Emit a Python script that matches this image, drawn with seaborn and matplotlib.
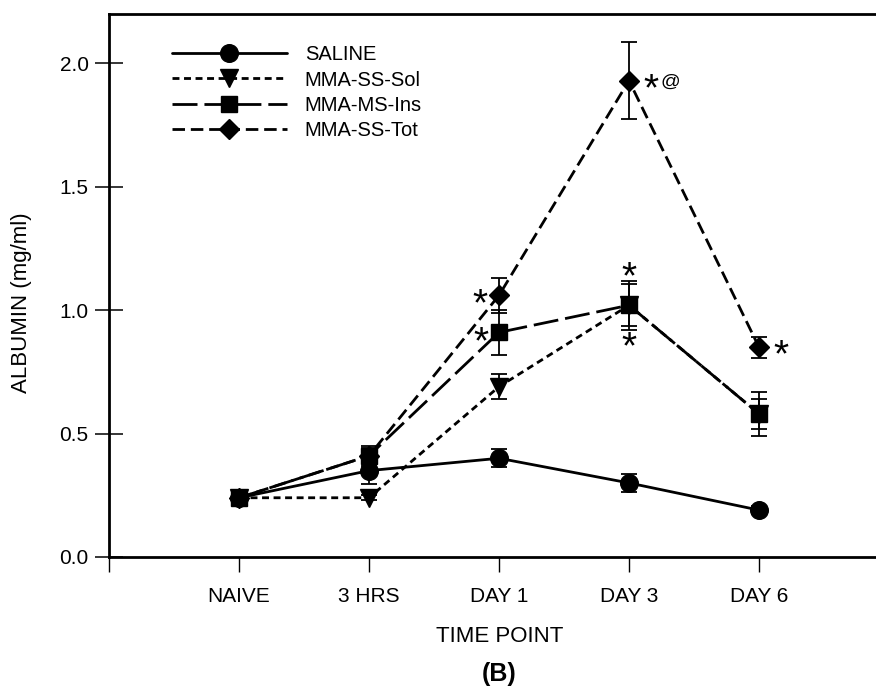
import matplotlib
matplotlib.use("Agg")
import matplotlib.pyplot as plt
import numpy as np
import pandas as pd
import seaborn as sns

# time points (x positions 1..5, position 0 is the bare axis start)
time_labels = ["NAIVE", "3 HRS", "DAY 1", "DAY 3", "DAY 6"]
time_pos = [1, 2, 3, 4, 5]

group_names = ["SALINE", "MMA-SS-Sol", "MMA-MS-Ins", "MMA-SS-Tot"]

# albumin (mg/ml), mean and error bar half-length
saline = [0.24, 0.35, 0.40, 0.30, 0.19]
saline_err = [0.01, 0.055, 0.036, 0.038, 0.015]
ss_sol = [0.24, 0.24, 0.69, 1.02, 0.58]
ss_sol_err = [0.01, 0.01, 0.05, 0.085, 0.06]
ms_ins = [0.24, 0.41, 0.91, 1.02, 0.58]
ms_ins_err = [0.01, 0.04, 0.09, 0.10, 0.09]
ss_tot = [0.24, 0.41, 1.06, 1.93, 0.85]
ss_tot_err = [0.01, 0.03, 0.07, 0.155, 0.043]

# significance marks: group, time index, text
sig_group = ["MMA-SS-Tot", "MMA-MS-Ins", "MMA-MS-Ins", "MMA-MS-Ins", "MMA-SS-Tot", "MMA-SS-Tot"]
sig_time = [2, 2, 3, 3, 4, 3]
sig_text = ["*", "*", "*", "*", "*", "*"]

df = pd.DataFrame({
    "time": time_pos * 4,
    "albumin": saline + ss_sol + ms_ins + ss_tot,
    "err": saline_err + ss_sol_err + ms_ins_err + ss_tot_err,
    "group": np.repeat(group_names, len(time_pos)),
})

styles = {
    "SALINE": dict(marker="o", markersize=12.7, linestyle="-", zorder=3),
    "MMA-SS-Sol": dict(marker="v", markersize=13, linestyle=(0, (5, 3.3)), zorder=3),
    "MMA-MS-Ins": dict(marker="s", markersize=11.5, linestyle=(0, (18, 5)), zorder=3.5),
    "MMA-SS-Tot": dict(marker="D", markersize=9.7, linestyle=(0, (9, 4.2)), zorder=3),
}
# offsets (points) of each significance mark from its point
sig_offset = [(-14, 0), (-13, -1), (0, 26), (0, -24.5), (16, 0), (16, 0)]

sns.set_theme(style="ticks")
plt.rcParams["font.family"] = ["Liberation Sans", "DejaVu Sans"]
plt.rcParams["lines.scale_dashes"] = False
for key in ["text.color", "axes.labelcolor", "xtick.color", "ytick.color",
            "xtick.labelcolor", "ytick.labelcolor"]:
    plt.rcParams[key] = "black"

fig = plt.figure(figsize=(8.76, 6.87), dpi=100)
ax = fig.add_axes([109 / 876, 130 / 687, 767 / 876, 543 / 687])

for name in group_names:
    sub = df[df["group"] == name]
    ax.errorbar(sub["time"], sub["albumin"], yerr=sub["err"], fmt="none",
                ecolor="black", elinewidth=1.3, capsize=5.5, capthick=1.3, zorder=2)
    sns.lineplot(data=sub, x="time", y="albumin", ax=ax, color="black",
                 linewidth=2, errorbar=None, label=name, legend=False,
                 markeredgecolor="black", markeredgewidth=1,
                 **styles[name])

star_fs = 28
for g, t, s, (dx, dy) in zip(sig_group, sig_time, sig_text, sig_offset):
    y = df[(df["group"] == g) & (df["time"] == time_pos[t])]["albumin"].iloc[0]
    ax.annotate(s, xy=(time_pos[t], y), xytext=(dx, dy - 0.5 * star_fs),
                textcoords="offset points", ha="center", va="baseline",
                fontsize=star_fs, color="black")
# the "@" next to the DAY 3 total mark
ax.annotate("@", xy=(time_pos[3], ss_tot[3]), xytext=(29.5, -1.5),
            textcoords="offset points", ha="center", va="center",
            fontsize=14, color="black")

ax.set_xlim(0, 5.9)
ax.set_ylim(0, 2.2)
ax.set_xticks([0] + time_pos)
ax.set_xticklabels([""] + time_labels, fontsize=15)
ax.set_yticks([0, 0.5, 1.0, 1.5, 2.0])
ax.set_yticklabels(["0.0", "0.5", "1.0", "1.5", "2.0"], fontsize=15)
ax.tick_params(axis="y", direction="inout", length=19.5, width=1.1, pad=5, color="black")
ax.tick_params(axis="x", direction="out", length=10.8, width=1.0, pad=11, color="black")
ax.set_xlabel("")
ax.set_ylabel("")

for side in ["left", "top", "bottom"]:
    ax.spines[side].set_linewidth(2)
    ax.spines[side].set_color("black")
ax.spines["right"].set_visible(False)

ax.legend(loc="upper left", bbox_to_anchor=(0.082, 0.942), frameon=False,
          borderpad=0, borderaxespad=0, handlelength=5.7, handletextpad=0.9,
          labelspacing=0.3, fontsize=14.5, numpoints=1)

fig.text(500 / 876, 1 - 637 / 687, "TIME POINT", ha="center", va="center", fontsize=16)
fig.text(499 / 876, 1 - 674 / 687, "(B)", ha="center", va="center", fontsize=18,
         fontweight="bold")
fig.text(22 / 876, 1 - 303 / 687, "ALBUMIN (mg/ml)", ha="center", va="center",
         rotation=90, fontsize=16)

fig.savefig("out.png", dpi=100)
